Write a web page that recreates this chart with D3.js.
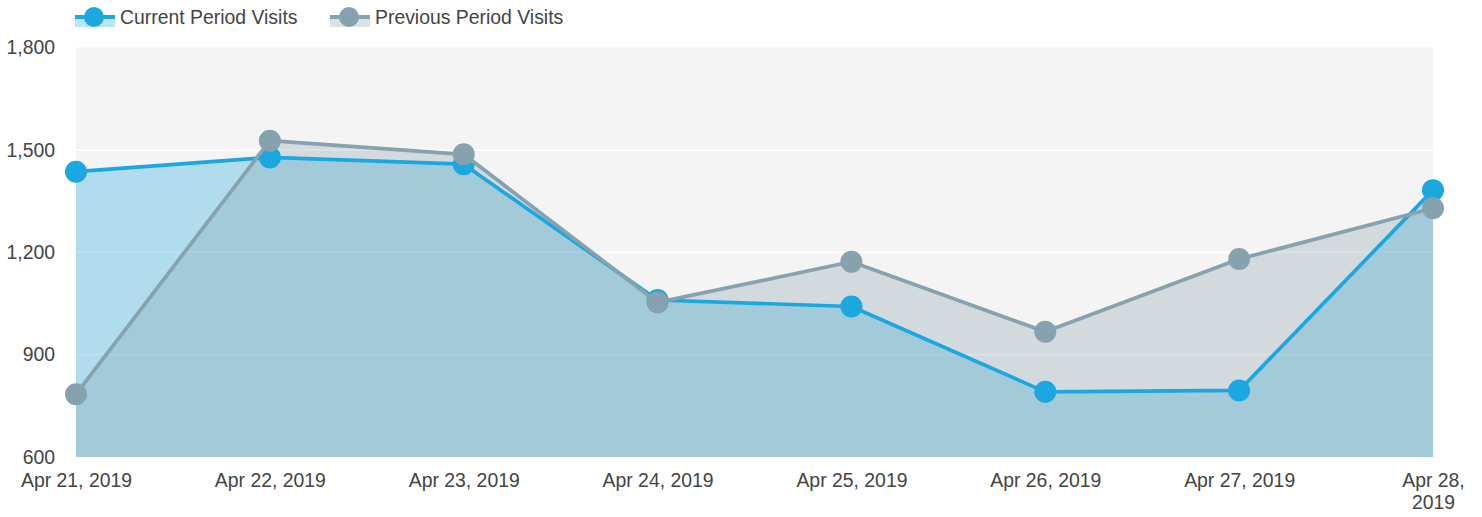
<!DOCTYPE html>
<html><head><meta charset="utf-8">
<script src="https://cdn.jsdelivr.net/npm/d3@7"></script>
<style>
html,body{margin:0;padding:0;background:#fff;}
text{font-family:"Liberation Sans",Arial,sans-serif;}
</style></head>
<body><svg id="c" width="1482" height="517"></svg>
<script>
const dates = ["Apr 21, 2019","Apr 22, 2019","Apr 23, 2019","Apr 24, 2019","Apr 25, 2019","Apr 26, 2019","Apr 27, 2019","Apr 28, 2019"];
const currentVisits = [1436, 1478, 1458, 1060, 1041, 791, 795, 1382];
const previousVisits = [784, 1527, 1487, 1053, 1172, 967, 1180, 1329];
const yTicks = [600, 900, 1200, 1500, 1800];
const seriesNames = ["Current Period Visits", "Previous Period Visits"];
const seriesColors = ["#1ba8e0", "#87a2af"];

(function(){
const svg = d3.select("#c");
const pLeft = 76, pRight = 1433, pTop = 47.5, pBottom = 457;
const x = d3.scalePoint().domain(dates).range([pLeft, pRight]);
const y = d3.scaleLinear().domain([600, 1800]).range([pBottom, pTop]);
const fmt = d3.format(",");
const textColor = "#444";
const fs = 19.4;

svg.append("rect").attr("x", pLeft).attr("y", pTop).attr("width", pRight-pLeft).attr("height", pBottom-pTop).attr("fill", "#f4f4f4");
svg.append("g").selectAll("line").data(yTicks.filter(t => t > 600 && t < 1800)).join("line")
  .attr("x1", pLeft).attr("x2", pRight).attr("y1", d => y(d)).attr("y2", d => y(d))
  .attr("stroke", "#fff").attr("stroke-width", 2);

const yAxis = d3.axisLeft(y).tickValues(yTicks).tickFormat(fmt).tickSize(0).tickPadding(0);
const ya = svg.append("g").attr("transform", `translate(55,0)`).call(yAxis);
ya.select(".domain").remove();
ya.selectAll("text").attr("font-size", fs).attr("fill", textColor).attr("font-family", "Liberation Sans, Arial, sans-serif");

const series = [currentVisits, previousVisits];
const area = d3.area().x((d,i) => x(dates[i])).y0(pBottom).y1(d => y(d));
const line = d3.line().x((d,i) => x(dates[i])).y(d => y(d));

series.forEach((s, k) => {
  svg.append("path").datum(s).attr("d", area).attr("fill", seriesColors[k]).attr("fill-opacity", 0.31);
});
series.forEach((s, k) => {
  const g = svg.append("g");
  g.append("path").datum(s).attr("d", line).attr("fill", "none").attr("stroke", seriesColors[k]).attr("stroke-width", 3.7).attr("stroke-linejoin", "round");
  g.selectAll("circle").data(s).join("circle").attr("cx", (d,i) => x(dates[i])).attr("cy", d => y(d)).attr("r", 11).attr("fill", seriesColors[k]);
});

const xAxis = d3.axisBottom(x).tickSize(0).tickPadding(0);
const xa = svg.append("g").attr("transform", `translate(0,${pBottom})`).call(xAxis);
xa.select(".domain").remove();
xa.selectAll("text").attr("font-size", fs).attr("fill", textColor).attr("font-family", "Liberation Sans, Arial, sans-serif")
  .attr("dy", null).attr("y", 30)
  .each(function(d, i) {
    if (i === dates.length - 1) {
      const parts = d.split(" ");
      const t = d3.select(this); t.text(null);
      t.append("tspan").attr("x", 0).attr("y", 30).text(parts[0] + " " + parts[1]);
      t.append("tspan").attr("x", 0).attr("y", 52).text(parts[2]);
    }
  });

const legendX = [75, 330];
seriesNames.forEach((name, k) => {
  const g = svg.append("g").attr("transform", `translate(${legendX[k]},0)`);
  g.append("rect").attr("x", 0).attr("y", 17).attr("width", 40).attr("height", 10).attr("fill", seriesColors[k]).attr("fill-opacity", 0.31);
  g.append("line").attr("x1", 0).attr("x2", 40).attr("y1", 17).attr("y2", 17).attr("stroke", seriesColors[k]).attr("stroke-width", 4);
  g.append("circle").attr("cx", 19).attr("cy", 17).attr("r", 10).attr("fill", seriesColors[k]);
  g.append("text").attr("x", 45).attr("y", 24).attr("font-size", fs).attr("fill", textColor).text(name);
});
})();
</script></body></html>
